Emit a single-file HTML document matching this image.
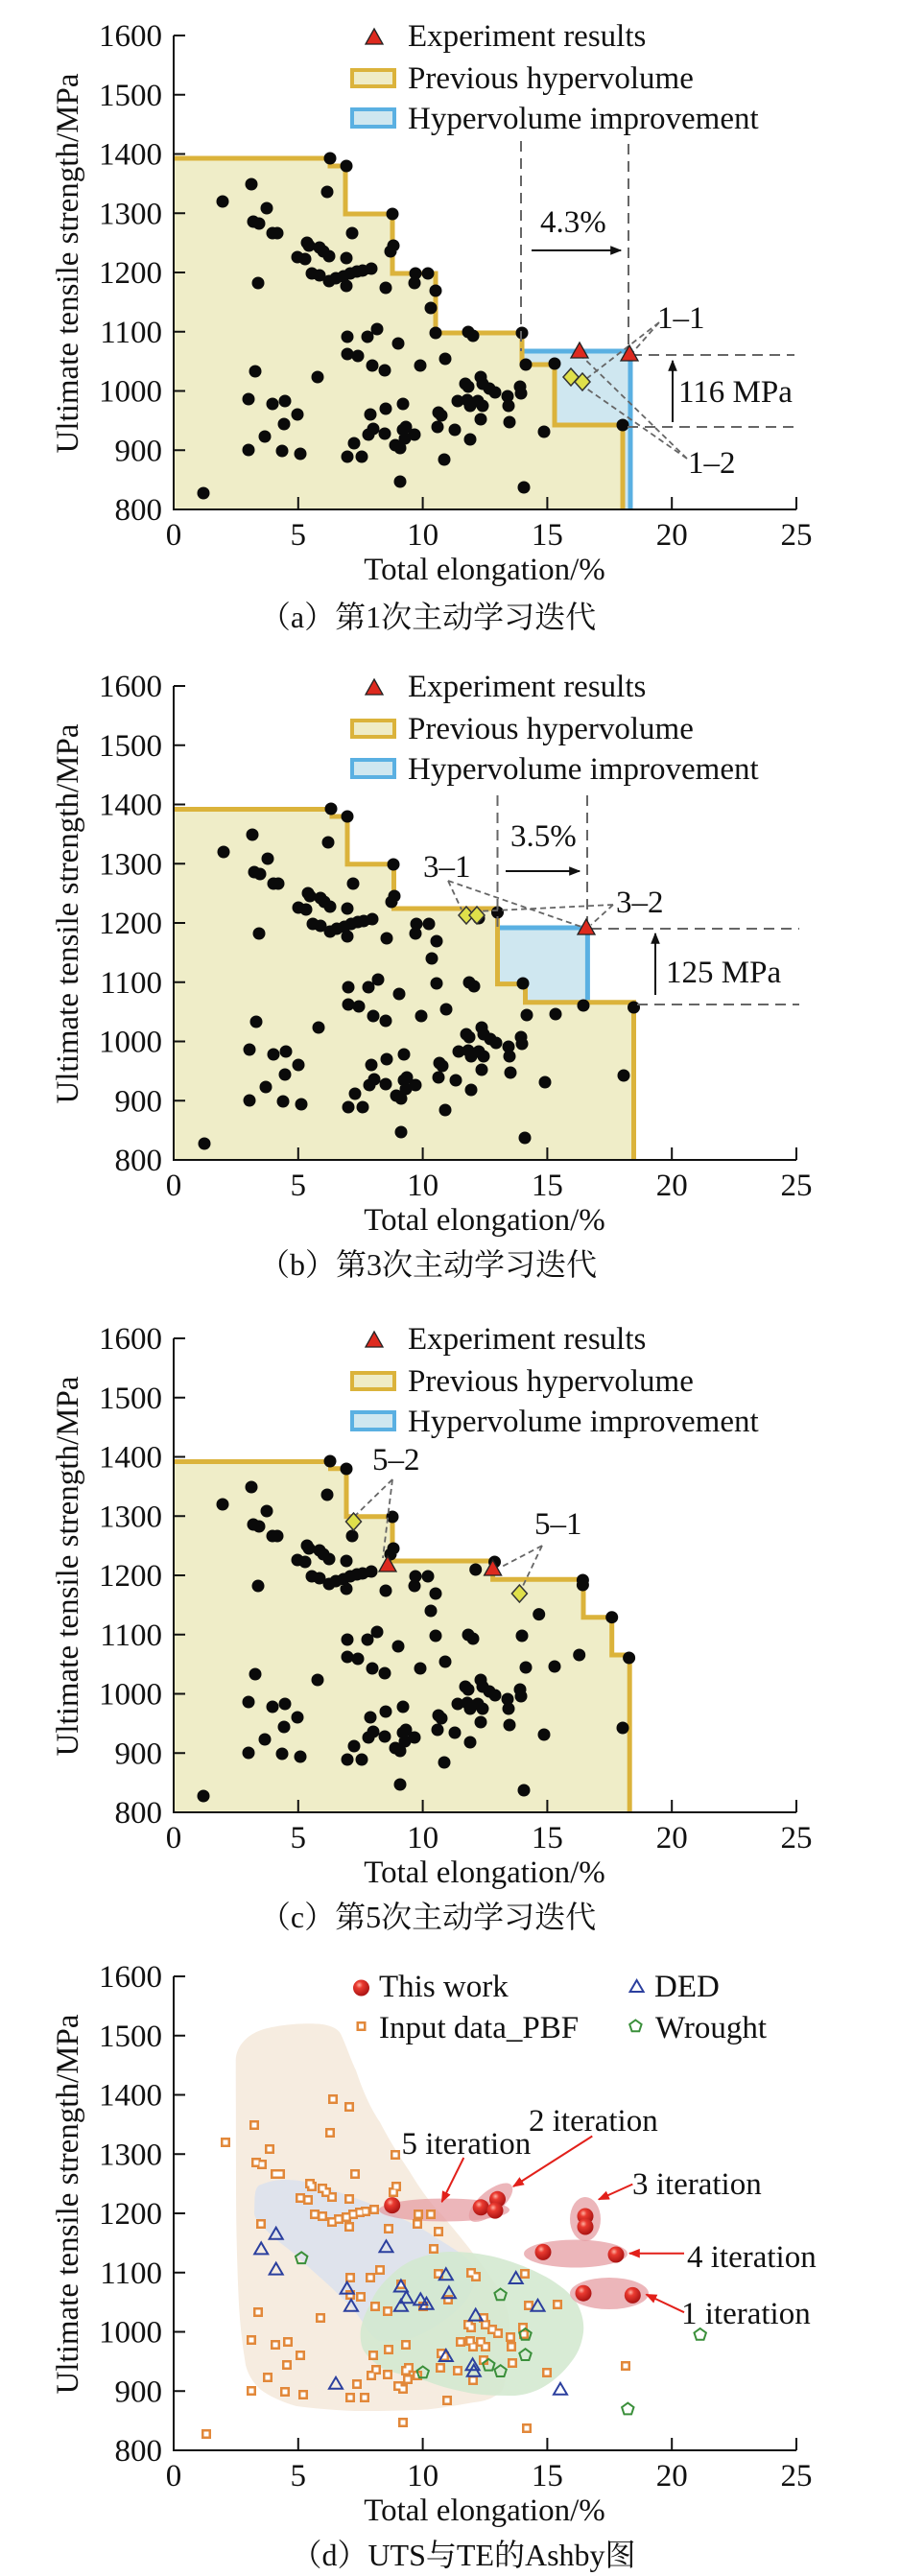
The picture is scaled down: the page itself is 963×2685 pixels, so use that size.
<!DOCTYPE html>
<html><head><meta charset="utf-8"><style>
html,body{margin:0;padding:0;background:#fff}
svg{display:block}
text{font-family:"Liberation Serif","Noto Serif CJK SC",serif;fill:#111}
</style></head><body>
<svg width="963" height="2685" viewBox="0 0 963 2685" xmlns="http://www.w3.org/2000/svg">
<defs>
<path id="D" d="M344 165h.01M361 173h.01M262 192h.01M232 210h.01M278 217h.01M341 200h.01M264 231h.01M270 233h.01M284 243h.01M289 243h.01M367 243h.01M409 223h.01M410 256h.01M407 262h.01M320 253h.01M322 256h.01M333 258h.01M337 262h.01M343 267h.01M310 268h.01M318 270h.01M361 269h.01M325 285h.01M333 287h.01M343 293h.01M350 290h.01M358 288h.01M365 285h.01M372 283h.01M378 282h.01M387 280h.01M361 298h.01M269 295h.01M402 300h.01M433 285h.01M446 285h.01M432 295h.01M454 303h.01M449 321h.01M454 347h.01M488 346h.01M493 350h.01M544 347h.01M362 351h.01M383 351h.01M393 343h.01M415 358h.01M362 369h.01M373 371h.01M388 381h.01M401 386h.01M438 381h.01M464 374h.01M548 380h.01M578 379h.01M266 387h.01M331 393h.01M259 416h.01M284 421h.01M297 418h.01M310 432h.01M296 442h.01M276 455h.01M259 469h.01M294 470h.01M313 473h.01M212 514h.01M362 476h.01M377 476h.01M369 462h.01M384 453h.01M389 447h.01M386 432h.01M402 426h.01M401 452h.01M420 421h.01M412 464h.01M417 467h.01M422 457h.01M420 448h.01M423 445h.01M432 453h.01M417 502h.01M501 393h.01M485 400h.01M488 403h.01M503 400h.01M510 405h.01M516 409h.01M529 413h.01M542 403h.01M543 410h.01M477 418h.01M487 417h.01M490 423h.01M498 418h.01M503 423h.01M530 423h.01M457 430h.01M460 433h.01M501 437h.01M456 445h.01M474 448h.01M531 440h.01M567 450h.01M490 458h.01M463 479h.01M546 508h.01M649 443h.01"/>
<path id="AX" d="M181 37V531H830M181 37h12M181 98.75h12M181 160.5h12M181 222.25h12M181 284h12M181 345.75h12M181 407.5h12M181 469.25h12M310.8 531v-13M440.6 531v-13M570.4 531v-13M700.2 531v-13M830 531v-13"/>
<path id="tri" d="M-7 5L0-7L7 5Z"/>
<path id="pen" d="M0-6.5L6.2-2L3.8 5.3H-3.8L-6.2-2Z"/>
<radialGradient id="sph" cx="0.38" cy="0.32" r="0.7">
<stop offset="0" stop-color="#ffb0a0"/><stop offset="0.3" stop-color="#ea3a30"/><stop offset="1" stop-color="#a81212"/>
</radialGradient>
<marker id="ak" viewBox="0 0 10 10" refX="9" refY="5" markerWidth="6" markerHeight="6" orient="auto"><path d="M0 1L10 5L0 9z" fill="#111"/></marker>
<marker id="ar" viewBox="0 0 10 10" refX="9" refY="5" markerWidth="6" markerHeight="6" orient="auto"><path d="M0 1L10 5L0 9z" fill="#e2201a"/></marker>
</defs>
<rect width="963" height="2685" fill="#fff"/>

<!-- ================= PANEL A ================= -->
<polygon points="181,531 181,165 344,165 344,173 360,173 360,223 409,223 409,285 454,285 454,347 544,347 544,380 578,380 578,443 649,443 649,531" fill="#efedc8"/>
<polygon points="544,366 657,366 657,531 649,531 649,443 578,443 578,380 544,380" fill="#cfe7f0"/>
<polyline points="544,366 657,366 657,531" fill="none" stroke="#5ab0e2" stroke-width="5"/>
<polyline points="181,165 344,165 344,173 360,173 360,223 409,223 409,285 454,285 454,347 544,347 544,380 578,380 578,443 649,443 649,531" fill="none" stroke="#dbb33b" stroke-width="5"/>
<use href="#D" fill="none" stroke="#0a0a0a" stroke-width="13" stroke-linecap="round"/>
<g stroke="#666" stroke-width="2" stroke-dasharray="11 7" fill="none">
<path d="M543 147V366M655 150V368M658 370H828M654 445H828"/>
</g>
<g stroke="#666" stroke-width="1.8" stroke-dasharray="6 4" fill="none">
<path d="M687 336L657 370M687 336L607 398M716 478L604 369M716 478L597 395"/>
</g>
<path d="M604 357L613 373H595Z" fill="#dd2a1f" stroke="#222" stroke-width="1.3"/>
<path d="M656 360L665 376H647Z" fill="#dd2a1f" stroke="#222" stroke-width="1.3"/>
<path d="M595 384L603 393L595 402L587 393Z" fill="#dfe04a" stroke="#333" stroke-width="1.5"/>
<path d="M607 389L615 398L607 407L599 398Z" fill="#dfe04a" stroke="#333" stroke-width="1.5"/>
<line x1="554" y1="261" x2="647" y2="261" stroke="#111" stroke-width="2" marker-end="url(#ak)"/>
<line x1="701" y1="440" x2="701" y2="376" stroke="#111" stroke-width="2" marker-end="url(#ak)"/>
<g font-size="33">
<text x="563" y="242">4.3%</text>
<text x="707" y="419">116 MPa</text>
<text x="685" y="342">1–1</text>
<text x="717" y="493">1–2</text>
</g>

<!-- ================= PANEL B ================= -->
<polygon points="181,1209 181,843.5 346,843.5 346,851 362,851 362,900.7 410.5,900.7 410.5,947 518.5,947 518.5,1025.6 547.5,1025.6 547.5,1044.7 660.5,1044.7 660.5,1209" fill="#efedc8"/>
<polygon points="518.5,967 612.4,967 612.4,1044.7 547.5,1044.7 547.5,1025.6 518.5,1025.6" fill="#cfe7f0"/>
<polyline points="518.5,967 612.4,967 612.4,1044.7" fill="none" stroke="#5ab0e2" stroke-width="5"/>
<polyline points="181,843.5 346,843.5 346,851 362,851 362,900.7 410.5,900.7 410.5,947 518.5,947 518.5,1025.6 547.5,1025.6 547.5,1044.7 660.5,1044.7 660.5,1209" fill="none" stroke="#dbb33b" stroke-width="5"/>
<use href="#D" transform="translate(1 678)" fill="none" stroke="#0a0a0a" stroke-width="13" stroke-linecap="round"/>
<path d="M518.5 951h.01M499 957h.01M608 1048h.01M660.5 1050h.01" fill="none" stroke="#0a0a0a" stroke-width="13" stroke-linecap="round"/>
<g stroke="#666" stroke-width="2" stroke-dasharray="11 7" fill="none">
<path d="M518.5 829V967M612 829V962M616 968H833M664 1047H833"/>
</g>
<g stroke="#666" stroke-width="1.8" stroke-dasharray="6 4" fill="none">
<path d="M467 918L481 948M467 918L606 966M639 943L616 964M639 943L496 950"/>
</g>
<path d="M486 945L494 954L486 963L478 954Z" fill="#dfe04a" stroke="#333" stroke-width="1.5"/>
<path d="M497 945L505 954L497 963L489 954Z" fill="#dfe04a" stroke="#333" stroke-width="1.5"/>
<path d="M611 958L620 974H602Z" fill="#dd2a1f" stroke="#222" stroke-width="1.3"/>
<line x1="527" y1="908" x2="604" y2="908" stroke="#111" stroke-width="2" marker-end="url(#ak)"/>
<line x1="683" y1="1037" x2="683" y2="973" stroke="#111" stroke-width="2" marker-end="url(#ak)"/>
<g font-size="33">
<text x="532" y="882">3.5%</text>
<text x="694" y="1024">125 MPa</text>
<text x="441" y="914">3–1</text>
<text x="642" y="951">3–2</text>
</g>

<!-- ================= PANEL C ================= -->
<polygon points="181,1889 181,1523.5 344.5,1523.5 344.5,1530.8 361,1530.8 361,1580.7 409,1580.7 409,1627 513.6,1627 513.6,1646.2 608,1646.2 608,1685.7 637.7,1685.7 637.7,1725 656.2,1725 656.2,1889" fill="#efedc8"/>
<polyline points="181,1523.5 344.5,1523.5 344.5,1530.8 361,1530.8 361,1580.7 409,1580.7 409,1627 513.6,1627 513.6,1646.2 608,1646.2 608,1685.7 637.7,1685.7 637.7,1725 656.2,1725 656.2,1889" fill="none" stroke="#dbb33b" stroke-width="5"/>
<use href="#D" transform="translate(0 1358)" fill="none" stroke="#0a0a0a" stroke-width="13" stroke-linecap="round"/>
<path d="M515.5 1628h.01M495.7 1636h.01M607.4 1647h.01M607.4 1652h.01M637.7 1685.7h.01M655.6 1728h.01M603.7 1725h.01M561.7 1682.6h.01" fill="none" stroke="#0a0a0a" stroke-width="13" stroke-linecap="round"/>
<g stroke="#666" stroke-width="1.8" stroke-dasharray="6 4" fill="none">
<path d="M409 1542L371 1579M409 1542L399 1624M565 1611L521 1634M565 1611L545 1653"/>
</g>
<path d="M368.5 1577L376.5 1586L368.5 1595L360.5 1586Z" fill="#dfe04a" stroke="#333" stroke-width="1.5"/>
<path d="M541.4 1652L549.4 1661L541.4 1670L533.4 1661Z" fill="#dfe04a" stroke="#333" stroke-width="1.5"/>
<path d="M404 1622L413 1638H395Z" fill="#dd2a1f" stroke="#222" stroke-width="1.3"/>
<path d="M513.6 1626L522.6 1642H504.6Z" fill="#dd2a1f" stroke="#222" stroke-width="1.3"/>
<g font-size="33">
<text x="388" y="1532">5–2</text>
<text x="557" y="1599">5–1</text>
</g>

<!-- ================= PANEL D ================= -->
<path d="M245.7 2147 C246 2135 255 2122 272 2116 C290 2110 320 2108 336 2110 C348 2112 354 2116 356 2122 C362 2135 366 2148 371 2158 C380 2185 388 2200 396 2212 C408 2235 418 2250 426 2262 C440 2285 450 2298 460 2308 C472 2322 480 2332 488 2342 C500 2358 510 2370 519 2385 C528 2400 532 2415 531 2430 C530 2455 528 2480 524 2491 C515 2500 505 2503 494 2504 C470 2508 450 2512 432 2512 C410 2513 390 2513 370 2513 C345 2512 325 2510 309 2508 C292 2503 280 2497 272 2491 C262 2482 258 2473 256 2465 C252 2440 250 2420 249 2402 C247 2360 246 2320 246 2275 Z" fill="#f6ece0"/>
<path d="M265.4 2291 C266 2282 268 2278 272 2277 C282 2273 290 2272 296 2272 C310 2272 320 2274 327 2277 C345 2282 360 2287 370 2291 C390 2298 405 2305 420 2313 C435 2320 447 2327 457 2334 C470 2342 480 2348 488 2355 C494 2362 496 2372 494 2381 C490 2395 480 2406 469 2414 C455 2425 442 2432 432 2436 C418 2440 405 2441 395 2440 C388 2436 382 2428 377 2419 C368 2405 356 2395 346 2385 C333 2373 320 2362 309 2351 C298 2342 285 2333 278 2325 C270 2318 266 2312 265 2308 Z" fill="#dfe3ec"/>
<path d="M385.8 2401.7 C390 2390 398 2380 407 2372 C415 2364 424 2358 432 2355 C445 2350 458 2347 469 2347 C490 2347 508 2350 525 2355 C545 2361 560 2368 574 2376 C588 2385 597 2393 602 2402 C607 2412 609 2422 608 2431 C606 2445 602 2453 596 2461 C588 2472 578 2481 568 2487 C558 2493 548 2496 537 2497 C522 2497 508 2497 494 2495 C477 2492 460 2488 445 2482 C430 2478 414 2474 401 2470 C390 2463 382 2456 378 2448 C375 2440 375 2430 377 2423 C379 2415 382 2408 386 2402 Z" fill="#d3e8cf" fill-opacity="0.88"/>
<g fill="#e49aa0" fill-opacity="0.72">
<ellipse cx="463" cy="2303.5" rx="68" ry="12"/>
<ellipse cx="511.5" cy="2295.7" rx="28" ry="12" transform="rotate(-40 511.5 2295.7)"/>
<ellipse cx="610" cy="2313" rx="16" ry="23"/>
<ellipse cx="600" cy="2349" rx="54" ry="14.5"/>
<ellipse cx="635" cy="2390.5" rx="41" ry="16.5"/>
</g>
<use href="#D" transform="translate(3 2023)" fill="none" stroke="#e2883a" stroke-width="10" stroke-linecap="square"/>
<use href="#D" transform="translate(3 2023)" fill="none" stroke="#ffffff" stroke-width="5" stroke-linecap="square"/>
<g fill="none" stroke="#2b3f9e" stroke-width="2">
<use href="#tri" x="287.7" y="2328.7"/><use href="#tri" x="272.2" y="2344.4"/><use href="#tri" x="287.7" y="2365.6"/>
<use href="#tri" x="402.5" y="2342.3"/><use href="#tri" x="361.7" y="2385.6"/><use href="#tri" x="366" y="2403.8"/>
<use href="#tri" x="417.9" y="2383.5"/><use href="#tri" x="423.5" y="2395.3"/><use href="#tri" x="417.9" y="2403.8"/>
<use href="#tri" x="438.3" y="2397.4"/><use href="#tri" x="444.5" y="2401.7"/><use href="#tri" x="464.8" y="2371.2"/>
<use href="#tri" x="467.9" y="2390.2"/><use href="#tri" x="495.7" y="2413.6"/><use href="#tri" x="537.7" y="2375"/>
<use href="#tri" x="560.5" y="2403.8"/><use href="#tri" x="464.8" y="2456"/><use href="#tri" x="492.6" y="2465.3"/>
<use href="#tri" x="493.8" y="2471.7"/><use href="#tri" x="350" y="2484.8"/><use href="#tri" x="584" y="2490.8"/>
<use href="#tri" x="663.6" y="2071"/>
</g>
<g fill="none" stroke="#3a8f3a" stroke-width="2">
<use href="#pen" x="314.2" y="2353.8"/><use href="#pen" x="521.6" y="2392"/><use href="#pen" x="547.5" y="2433.5"/>
<use href="#pen" x="547.5" y="2454.7"/><use href="#pen" x="509.3" y="2465.3"/><use href="#pen" x="521.6" y="2471.7"/>
<use href="#pen" x="440.7" y="2473"/><use href="#pen" x="729.7" y="2433.5"/><use href="#pen" x="654.3" y="2511.1"/>
<use href="#pen" x="662.4" y="2112"/>
</g>
<g fill="url(#sph)">
<circle cx="408.7" cy="2298.6" r="8.5"/><circle cx="501.2" cy="2300.8" r="8.5"/><circle cx="518.5" cy="2292.3" r="8.5"/>
<circle cx="516" cy="2304.1" r="8.5"/><circle cx="610" cy="2310" r="8.5"/><circle cx="610" cy="2321" r="8.5"/>
<circle cx="566" cy="2347.4" r="8.5"/><circle cx="642" cy="2350" r="8.5"/><circle cx="608" cy="2390.2" r="8.5"/>
<circle cx="659.3" cy="2392.4" r="8.5"/>
<circle cx="376.5" cy="2072" r="8.5"/>
</g>
<path d="M376.5 2112h.01" stroke="#e2883a" stroke-width="10" stroke-linecap="square"/>
<path d="M376.5 2112h.01" stroke="#fff" stroke-width="5" stroke-linecap="square"/>
<g stroke="#e2201a" stroke-width="2" fill="none">
<line x1="483.3" y1="2249" x2="460.5" y2="2295" marker-end="url(#ar)"/>
<line x1="617.3" y1="2226.5" x2="535" y2="2279" marker-end="url(#ar)"/>
<line x1="659.3" y1="2276.6" x2="624" y2="2292.5" marker-end="url(#ar)"/>
<line x1="713" y1="2348.7" x2="656" y2="2348.7" marker-end="url(#ar)"/>
<line x1="713" y1="2410.2" x2="673.5" y2="2391.5" marker-end="url(#ar)"/>
</g>
<g font-size="33">
<text x="418.5" y="2245">5 iteration</text>
<text x="551" y="2221">2 iteration</text>
<text x="659" y="2287">3 iteration</text>
<text x="716" y="2363">4 iteration</text>
<text x="710" y="2422">1 iteration</text>
<text x="395" y="2081">This work</text>
<text x="682" y="2081">DED</text>
<text x="395" y="2124">Input data_PBF</text>
<text x="683" y="2124">Wrought</text>
</g>

<!-- ================= AXES / LEGENDS (per panel) ================= -->
<g transform="translate(0 0)">
<use href="#AX" stroke="#111" stroke-width="2" fill="none"/>
<g font-size="33" text-anchor="end"><text x="169" y="48">1600</text><text x="169" y="109.75">1500</text><text x="169" y="171.5">1400</text><text x="169" y="233.25">1300</text><text x="169" y="295">1200</text><text x="169" y="356.75">1100</text><text x="169" y="418.5">1000</text><text x="169" y="480.25">900</text><text x="169" y="542">800</text></g>
<g font-size="33" text-anchor="middle"><text x="181" y="568">0</text><text x="310.8" y="568">5</text><text x="440.6" y="568">10</text><text x="570.4" y="568">15</text><text x="700.2" y="568">20</text><text x="830" y="568">25</text>
<text x="505" y="604">Total elongation/%</text>
<text transform="translate(81 274.5) rotate(-90)">Ultimate tensile strength/MPa</text></g>
<path d="M390 30L399 46H381Z" fill="#dd2a1f" stroke="#222" stroke-width="1.3"/>
<rect x="367" y="73" width="44" height="17" fill="#efecc6" stroke="#dbb33b" stroke-width="4"/>
<rect x="367" y="114" width="44" height="18" fill="#cfe7f0" stroke="#5ab0e2" stroke-width="4"/>
<g font-size="33"><text x="425" y="48">Experiment results</text><text x="425" y="92">Previous hypervolume</text><text x="425" y="134">Hypervolume improvement</text></g>
</g>

<g transform="translate(0 678)">
<use href="#AX" stroke="#111" stroke-width="2" fill="none"/>
<g font-size="33" text-anchor="end"><text x="169" y="48">1600</text><text x="169" y="109.75">1500</text><text x="169" y="171.5">1400</text><text x="169" y="233.25">1300</text><text x="169" y="295">1200</text><text x="169" y="356.75">1100</text><text x="169" y="418.5">1000</text><text x="169" y="480.25">900</text><text x="169" y="542">800</text></g>
<g font-size="33" text-anchor="middle"><text x="181" y="568">0</text><text x="310.8" y="568">5</text><text x="440.6" y="568">10</text><text x="570.4" y="568">15</text><text x="700.2" y="568">20</text><text x="830" y="568">25</text>
<text x="505" y="604">Total elongation/%</text>
<text transform="translate(81 274.5) rotate(-90)">Ultimate tensile strength/MPa</text></g>
<path d="M390 30L399 46H381Z" fill="#dd2a1f" stroke="#222" stroke-width="1.3"/>
<rect x="367" y="73" width="44" height="17" fill="#efecc6" stroke="#dbb33b" stroke-width="4"/>
<rect x="367" y="114" width="44" height="18" fill="#cfe7f0" stroke="#5ab0e2" stroke-width="4"/>
<g font-size="33"><text x="425" y="48">Experiment results</text><text x="425" y="92">Previous hypervolume</text><text x="425" y="134">Hypervolume improvement</text></g>
</g>

<g transform="translate(0 1358)">
<use href="#AX" stroke="#111" stroke-width="2" fill="none"/>
<g font-size="33" text-anchor="end"><text x="169" y="48">1600</text><text x="169" y="109.75">1500</text><text x="169" y="171.5">1400</text><text x="169" y="233.25">1300</text><text x="169" y="295">1200</text><text x="169" y="356.75">1100</text><text x="169" y="418.5">1000</text><text x="169" y="480.25">900</text><text x="169" y="542">800</text></g>
<g font-size="33" text-anchor="middle"><text x="181" y="568">0</text><text x="310.8" y="568">5</text><text x="440.6" y="568">10</text><text x="570.4" y="568">15</text><text x="700.2" y="568">20</text><text x="830" y="568">25</text>
<text x="505" y="604">Total elongation/%</text>
<text transform="translate(81 274.5) rotate(-90)">Ultimate tensile strength/MPa</text></g>
<path d="M390 30L399 46H381Z" fill="#dd2a1f" stroke="#222" stroke-width="1.3"/>
<rect x="367" y="73" width="44" height="17" fill="#efecc6" stroke="#dbb33b" stroke-width="4"/>
<rect x="367" y="114" width="44" height="18" fill="#cfe7f0" stroke="#5ab0e2" stroke-width="4"/>
<g font-size="33"><text x="425" y="48">Experiment results</text><text x="425" y="92">Previous hypervolume</text><text x="425" y="134">Hypervolume improvement</text></g>
</g>

<g transform="translate(0 2023)">
<use href="#AX" stroke="#111" stroke-width="2" fill="none"/>
<g font-size="33" text-anchor="end"><text x="169" y="48">1600</text><text x="169" y="109.75">1500</text><text x="169" y="171.5">1400</text><text x="169" y="233.25">1300</text><text x="169" y="295">1200</text><text x="169" y="356.75">1100</text><text x="169" y="418.5">1000</text><text x="169" y="480.25">900</text><text x="169" y="542">800</text></g>
<g font-size="33" text-anchor="middle"><text x="181" y="568">0</text><text x="310.8" y="568">5</text><text x="440.6" y="568">10</text><text x="570.4" y="568">15</text><text x="700.2" y="568">20</text><text x="830" y="568">25</text>
<text x="505" y="604">Total elongation/%</text>
<text transform="translate(81 274.5) rotate(-90)">Ultimate tensile strength/MPa</text></g>
</g>

<!-- captions -->
<g font-size="32" text-anchor="middle">
<text x="446" y="654">（a）第1次主动学习迭代</text>
<text x="446" y="1329">（b）第3次主动学习迭代</text>
<text x="446" y="2009">（c）第5次主动学习迭代</text>
<text x="483" y="2674">（d）UTS与TE的Ashby图</text>
</g>
</svg>
</body></html>
